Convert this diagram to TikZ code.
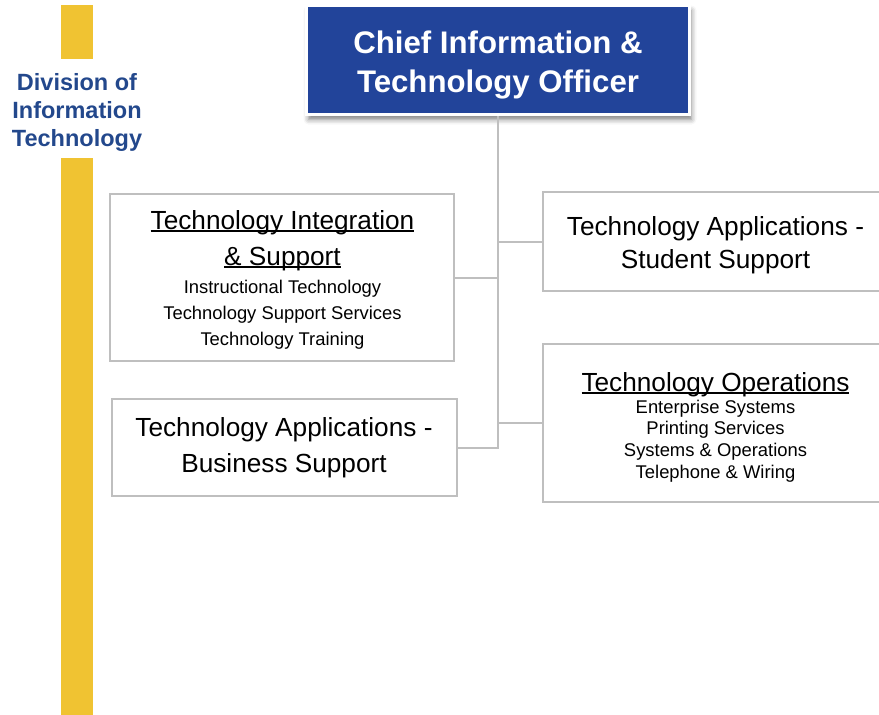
\documentclass[tikz,border=0pt]{standalone}
\usepackage{fontspec}
\setmainfont{Liberation Sans}
\usetikzlibrary{shadows.blur}
\definecolor{barYellow}{RGB}{240,195,50}
\definecolor{divBlue}{RGB}{35,72,140}
\definecolor{ceoBlue}{RGB}{34,68,154}
\definecolor{lineGray}{RGB}{191,191,191}
\newcommand\myul[1]{\setbox0\hbox{#1}\rlap{\rule[-3.3pt]{\wd0}{2pt}}\box0}
\tikzset{
  orgbox/.style={draw=lineGray, line width=2pt, fill=white, inner sep=0pt},
  conn/.style={draw=lineGray, line width=2pt},
  bigtxt/.style={inner sep=0pt, align=center, anchor=base, font=\fontsize{26.2}{36}\selectfont},
  smalltxt/.style={inner sep=0pt, align=center, anchor=base, font=\fontsize{18.4}{26}\selectfont},
}
\begin{document}
\begin{tikzpicture}[x=1pt,y=-1pt]
\useasboundingbox (0,0) rectangle (879,715);
% yellow bar
\fill[barYellow] (61,5) rectangle (93,58.7);
\fill[barYellow] (61,158) rectangle (93,715);
\node[inner sep=0pt, align=center, anchor=base, text=divBlue,
      font=\fontsize{23.5}{28.3}\selectfont\bfseries] (div) at (77,146.7)
  {Division of\\Information\\Technology};
% CEO box
\node[draw=white, line width=3pt, fill=ceoBlue, minimum width=383, minimum height=109,
      inner sep=0pt, blur shadow={shadow xshift=2pt, shadow yshift=-5pt, shadow blur radius=5pt, shadow opacity=50}]
  (ceo) at (498,60) {};
\node[inner sep=0pt, align=center, anchor=base, text=white,
      font=\fontsize{31.2}{39}\selectfont\bfseries] (ceotxt) at (498,92)
  {Chief Information \&\\Technology Officer};
% boxes
\node[orgbox, minimum width=344, minimum height=167] (l1) at (282,277.5) {};
\node[orgbox, minimum width=345, minimum height=99] (r1) at (715.5,241.5) {};
\node[orgbox, minimum width=345, minimum height=97] (l2) at (284.5,447.5) {};
\node[orgbox, minimum width=345, minimum height=158] (r2) at (715.5,423) {};
% connectors
\draw[conn] (ceo.south) |- (l2.east);
\draw[conn] (l1.east) -- (l1.east -| ceo.south);
\draw[conn] (r1.west) -- (r1.west -| ceo.south);
\draw[conn] (r2.west) -- (r2.west -| ceo.south);
% texts
\node[bigtxt] (l1title) at (282.5,265) {\myul{Technology Integration}\\\myul{\& Support}};
\node[smalltxt] (l1items) at (282.5,345.5) {Instructional Technology\\Technology Support Services\\Technology Training};
\node[bigtxt, font=\fontsize{26.2}{33}\selectfont] (r1txt) at (715.5,268) {Technology Applications -\\Student Support};
\node[bigtxt, font=\fontsize{26.2}{36}\selectfont] (l2txt) at (284,472.5) {Technology Applications -\\Business Support};
\node[bigtxt] (r2title) at (715.5,391) {\myul{Technology Operations}};
\node[smalltxt, font=\fontsize{18.4}{21.8}\selectfont] (r2items) at (715.5,478.5) {Enterprise Systems\\Printing Services\\Systems \& Operations\\Telephone \& Wiring};
\end{tikzpicture}
\end{document}
